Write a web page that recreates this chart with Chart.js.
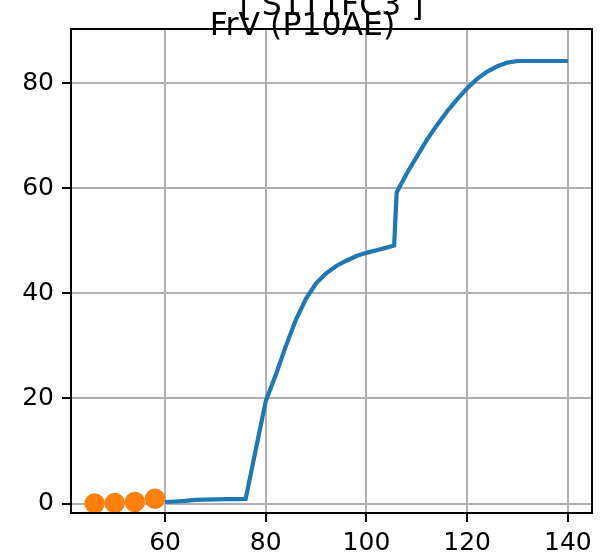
<!DOCTYPE html>
<html>
<head>
<meta charset="utf-8">
<script src="https://cdn.jsdelivr.net/npm/chart.js@4"></script>
<style>
  html, body { margin: 0; padding: 0; background: #fff; }
  #wrap { width: 603px; height: 558px; }
</style>
</head>
<body>
<div id="wrap"><canvas id="myChart" width="603" height="558"></canvas></div>
<script>
// curve data (blue)
const curveX = [60, 62, 64, 66, 68, 70, 72, 74, 76, 80, 82, 84, 86, 88, 90, 92, 94, 96, 98, 100, 102, 104, 105.5, 106, 108, 110, 112, 114, 116, 118, 120, 122, 124, 126, 128, 130, 132, 135, 138, 140];
const curveY = [0.3, 0.4, 0.5, 0.7, 0.75, 0.8, 0.85, 0.85, 0.9, 19.5, 24.5, 30, 35, 39, 41.9, 43.8, 45.2, 46.2, 47.1, 47.7, 48.2, 48.7, 49.1, 59.2, 62.8, 66, 69.2, 72, 74.6, 76.9, 79, 80.8, 82.2, 83.2, 83.9, 84.2, 84.2, 84.2, 84.2, 84.2];

// orange markers
const dotX = [46, 50, 54, 58];
const dotY = [0, 0.1, 0.3, 0.9];

const xTicks = [60, 80, 100, 120, 140];
const yTicks = [0, 20, 40, 60, 80];
const titleLines = ['[ S1T1FC3 ]', 'FrV (P10AE)'];

Chart.defaults.font.family = 'DejaVu Sans';
Chart.defaults.font.size = 25;
Chart.defaults.color = '#000';

const frame = {
  id: 'frame',
  afterDraw(chart) {
    const c = chart.ctx;
    const a = chart.chartArea;
    c.save();
    c.strokeStyle = '#000';
    c.lineWidth = 2;
    c.strokeRect(a.left, a.top, a.right - a.left, a.bottom - a.top);
    c.fillStyle = '#000';
    c.font = '31.5px "DejaVu Sans"';
    c.textAlign = 'center';
    c.textBaseline = 'alphabetic';
    const mid = (a.left + a.right) / 2;
    c.fillText(titleLines[0], mid, 15);
    c.fillText(titleLines[1], mid - 29, 35);
    c.restore();
  }
};

const ctx = document.getElementById('myChart').getContext('2d');
const myChart = new Chart(ctx, {
  type: 'line',
  data: {
    datasets: [{
      data: dotX.map((x, i) => ({ x: x, y: dotY[i] })),
      showLine: false,
      pointRadius: 9.5,
      pointHoverRadius: 9.5,
      pointBackgroundColor: '#ff7f0e',
      pointBorderColor: '#ff7f0e',
      pointBorderWidth: 1.5,
      borderColor: '#ff7f0e',
      clip: 12,
      order: 0
    }, {
      data: curveX.map((x, i) => ({ x: x, y: curveY[i] })),
      borderColor: '#1f77b4',
      borderWidth: 4.2,
      pointRadius: 0,
      tension: 0,
      order: 1
    }]
  },
  options: {
    responsive: false,
    animation: false,
    events: [],
    layout: { padding: { top: 29, right: 3, left: 0, bottom: 0 } },
    plugins: {
      legend: { display: false },
      tooltip: { enabled: false },
      title: { display: false }
    },
    scales: {
      x: {
        type: 'linear',
        min: 41.31,
        max: 144.8,
        afterFit(s) { s.height = 45; s.paddingLeft = 0; s.paddingRight = 0; },
        afterBuildTicks(s) { s.ticks = xTicks.map(v => ({ value: v })); },
        ticks: { padding: 6, maxRotation: 0, autoSkip: false },
        grid: { color: '#b0b0b0', lineWidth: 2, tickColor: '#000', tickWidth: 2, tickLength: 9 },
        border: { color: '#000', width: 2 }
      },
      y: {
        type: 'linear',
        min: -1.79,
        max: 90.29,
        afterFit(s) { s.width = 71; s.paddingTop = 0; s.paddingBottom = 0; },
        afterBuildTicks(s) { s.ticks = yTicks.map(v => ({ value: v })); },
        ticks: { padding: 8, autoSkip: false },
        grid: { color: '#b0b0b0', lineWidth: 2, tickColor: '#000', tickWidth: 2, tickLength: 9 },
        border: { color: '#000', width: 2 }
      }
    }
  },
  plugins: [frame]
});
</script>
</body>
</html>
